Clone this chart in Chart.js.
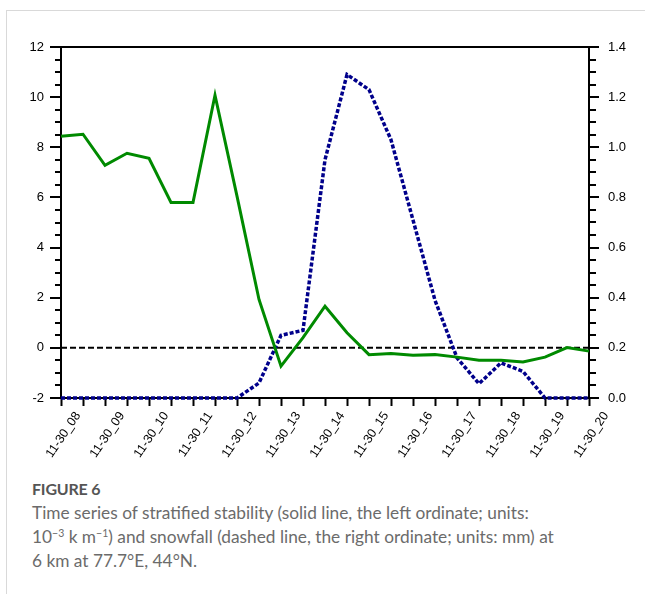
<!DOCTYPE html>
<html><head><meta charset="utf-8">
<script src="https://cdn.jsdelivr.net/npm/chart.js@4"></script>
<style>
html,body{margin:0;padding:0;background:#fff;}
body{width:645px;height:594px;position:relative;overflow:hidden;}
#card{position:absolute;left:6px;top:10px;width:645px;height:600px;border-top:1px solid #d9d9d9;border-left:1px solid #d9d9d9;}
#wrap{position:absolute;left:0;top:0;width:645px;height:470px;}
#cap{position:absolute;left:32px;top:477px;width:612px;font-family:Lato,"Open Sans",sans-serif;color:#6b6b6b;font-size:17.3px;line-height:24px;}
#cap .t{font-weight:700;color:#555;font-size:16px;letter-spacing:-0.2px;}
sup{font-size:10.5px;line-height:0;vertical-align:6px;}
</style></head>
<body>
<div id="card"></div>
<div id="wrap"><canvas id="c" width="645" height="470"></canvas></div>
<div id="cap"><div class="t">FIGURE 6</div>Time series of stratified stability (solid line, the left ordinate; units:<br>10<sup>−3</sup> k m<sup>−1</sup>) and snowfall (dashed line, the right ordinate; units: mm) at<br>6 km at 77.7°E, 44°N.</div>
<script>
const timeLabels = ['11-30_08','','11-30_09','','11-30_10','','11-30_11','','11-30_12','','11-30_13','','11-30_14','','11-30_15','','11-30_16','','11-30_17','','11-30_18','','11-30_19','','11-30_20'];
const stability = [8.44, 8.52, 7.28, 7.76, 7.56, 5.80, 5.80, 10.08, 6.05, 1.93, -0.73, 0.41, 1.66, 0.60, -0.27, -0.23, -0.29, -0.27, -0.37, -0.49, -0.49, -0.56, -0.37, 0.01, -0.13];
const snowfall = [0, 0, 0, 0, 0, 0, 0, 0, 0, 0.06, 0.25, 0.27, 0.95, 1.29, 1.23, 1.03, 0.71, 0.39, 0.16, 0.057, 0.14, 0.106, 0, 0, 0];
const leftTicks = [-2, 0, 2, 4, 6, 8, 10, 12];
const rightTicks = [0.0, 0.2, 0.4, 0.6, 0.8, 1.0, 1.2, 1.4];
const zeroLine = 0;

const framePlugin = {
  id: 'frame',
  beforeDatasetsDraw(chart) {
    const ctx = chart.ctx, a = chart.chartArea, yl = chart.scales.y, yr = chart.scales.y1;
    ctx.save();
    const yz = yl.getPixelForValue(zeroLine);
    ctx.strokeStyle = '#000'; ctx.lineWidth = 2; ctx.setLineDash([6, 3]);
    ctx.beginPath(); ctx.moveTo(a.left, yz); ctx.lineTo(a.right, yz); ctx.stroke();
    ctx.setLineDash([]);
    ctx.lineWidth = 2;
    ctx.strokeRect(a.left, a.top, a.right - a.left, a.bottom - a.top);
    for (let i = 0; i <= 28; i++) {
      const v = yl.min + i * 0.5;
      const p = Math.round(yl.getPixelForValue(v));
      const len = (i % 4 === 0) ? 11 : 6;
      ctx.beginPath(); ctx.moveTo(a.left, p); ctx.lineTo(a.left - len, p); ctx.stroke();
    }
    for (let i = 0; i <= 28; i++) {
      const v = yr.min + i * 0.05;
      const p = Math.round(yr.getPixelForValue(v));
      const len = (i % 4 === 0) ? 10 : 7;
      ctx.beginPath(); ctx.moveTo(a.right, p); ctx.lineTo(a.right + len, p); ctx.stroke();
    }
    ctx.restore();
  }
};

new Chart(document.getElementById('c'), {
  type: 'line',
  data: {
    labels: timeLabels,
    datasets: [
      { label: 'stability', data: stability, yAxisID: 'y', borderColor: '#008a00', borderWidth: 3, pointRadius: 0, tension: 0, clip: false },
      { label: 'snowfall', data: snowfall, yAxisID: 'y1', borderColor: '#00008b', borderWidth: 3.5, borderDash: [4, 2], pointRadius: 0, tension: 0, clip: false }
    ]
  },
  options: {
    responsive: false, animation: false, devicePixelRatio: 1,
    layout: { padding: { top: 47, left: 0, right: 0, bottom: 0 } },
    plugins: { legend: { display: false }, tooltip: { enabled: false } },
    scales: {
      x: {
        type: 'category',
        border: { display: false },
        grid: { display: true, drawOnChartArea: false, drawTicks: true, tickLength: 8, tickColor: '#000', tickWidth: 2, color: '#000' },
        ticks: { autoSkip: false, maxRotation: 56, minRotation: 56, labelOffset: 17, padding: 3, color: '#000', font: { family: 'Liberation Sans', size: 12.5 } },
        afterFit(s) { s.height = 72; }
      },
      y: {
        position: 'left', min: -2, max: 12,
        border: { display: false },
        grid: { drawOnChartArea: false, drawTicks: true, tickLength: 11, tickColor: 'rgba(0,0,0,0)' },
        afterBuildTicks(s) { s.ticks = leftTicks.map(v => ({ value: v })); },
        ticks: { padding: 6, color: '#000', font: { family: 'Liberation Sans', size: 13 }, callback: v => String(v) },
        afterFit(s) { s.width = 61; }
      },
      y1: {
        position: 'right', min: 0, max: 1.4,
        border: { display: false },
        grid: { drawOnChartArea: false, drawTicks: true, tickLength: 10, tickColor: 'rgba(0,0,0,0)' },
        afterBuildTicks(s) { s.ticks = rightTicks.map(v => ({ value: v })); },
        ticks: { padding: 9, color: '#000', font: { family: 'Liberation Sans', size: 13 }, callback: v => Number(v).toFixed(1) },
        afterFit(s) { s.width = 56; }
      }
    }
  },
  plugins: [framePlugin]
});
</script>
</body></html>
